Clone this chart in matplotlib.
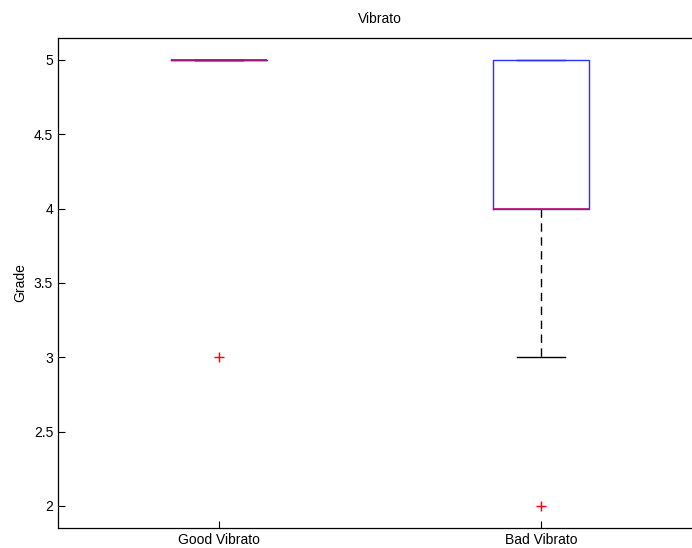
import matplotlib.pyplot as plt

plt.rcParams['font.family'] = ['Liberation Sans', 'DejaVu Sans']

labels = ['Good Vibrato', 'Bad Vibrato']
good_grades = [5, 5, 5, 5, 5, 5, 5, 3]
bad_grades = [2, 3, 4, 4, 4, 4, 5, 5, 5]

fig = plt.figure(figsize=(6.92, 5.48), dpi=100)
ax = fig.add_axes([0.0838, 0.0365, 0.9306, 0.8942])

# caps sit under the box outline, median on top
ax.boxplot([good_grades, bad_grades], positions=[1, 2], widths=0.3,
           whis=1.5,
           boxprops=dict(color='#3030ff', linewidth=1.0, zorder=2.2),
           whiskerprops=dict(color='black', linestyle=(0, (6, 4)), linewidth=1.0,
                             zorder=2.0),
           capprops=dict(color='black', linewidth=1.0, zorder=2.0),
           capwidths=0.15,
           medianprops=dict(color='#b8105e', linewidth=1.2, zorder=2.4),
           flierprops=dict(marker='+', markeredgecolor='red', markersize=7,
                           linestyle='none'))

ax.set_xlim(0.5, 2.5)
ax.set_ylim(1.852, 5.148)
ax.set_xticks([1, 2])
ax.set_xticklabels(labels)
ax.set_yticks([2, 2.5, 3, 3.5, 4, 4.5, 5])
ax.set_yticklabels(['2', '2.5', '3', '3.5', '4', '4.5', '5'])
ax.tick_params(direction='in', length=5, labelsize=10, width=0.8)
for s in ax.spines.values():
    s.set_linewidth(0.9)

ax.set_title('Vibrato', fontsize=10, pad=11)
ax.set_ylabel('Grade', fontsize=10, labelpad=5)

fig.savefig('out.png', dpi=100)
